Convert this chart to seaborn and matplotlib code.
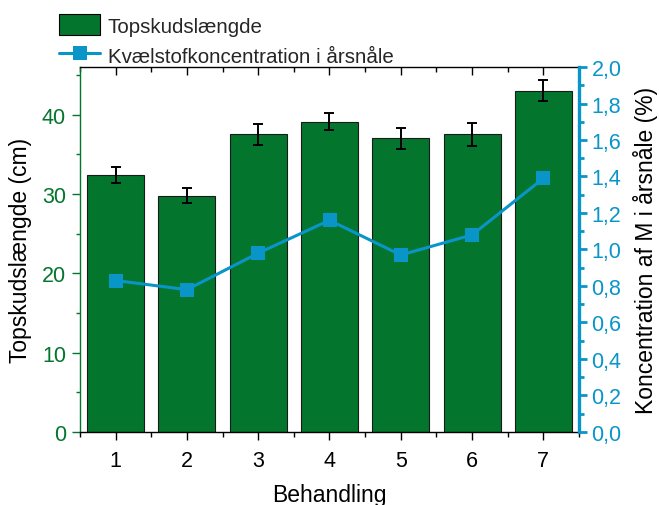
import matplotlib
matplotlib.use("Agg")
import matplotlib.pyplot as plt
import seaborn as sns
import pandas as pd
from matplotlib.ticker import MultipleLocator, FuncFormatter
from matplotlib.lines import Line2D, TICKDOWN
from matplotlib.patches import Patch

# Data
behandling = [1, 2, 3, 4, 5, 6, 7]
topskud = [32.4, 29.8, 37.5, 39.1, 37.0, 37.5, 43.0]
topskud_err = [1.0, 0.9, 1.3, 1.1, 1.3, 1.4, 1.3]
kvaelstof = [0.83, 0.78, 0.98, 1.16, 0.97, 1.08, 1.39]

GREEN = "#03752D"
BLUE = "#0A95C9"

sns.set_theme(style="white")
plt.rcParams["font.family"] = ["Liberation Sans", "DejaVu Sans"]

df = pd.DataFrame({"Behandling": behandling, "Topskud": topskud, "N": kvaelstof})

fig = plt.figure(figsize=(6.59, 5.06), dpi=100)
ax = fig.add_axes([0.1214, 0.1443, 0.7572, 0.7213])

sns.barplot(data=df, x="Behandling", y="Topskud", native_scale=True,
            color=GREEN, saturation=1, width=0.8, edgecolor="#1a1a1a",
            linewidth=0.8, errorbar=None, ax=ax)
ax.errorbar(behandling, topskud, yerr=topskud_err, fmt="none",
            ecolor="black", elinewidth=1.4, capsize=3.5, capthick=1.4, zorder=5)

ax.set_xlim(0.5, 7.5)
ax.set_ylim(0, 46)
ax.set_xticks(behandling)
ax.xaxis.set_minor_locator(MultipleLocator(0.5))
ax.yaxis.set_major_locator(MultipleLocator(10))
ax.yaxis.set_minor_locator(MultipleLocator(5))

ax2 = ax.twinx()
sns.lineplot(data=df, x="Behandling", y="N", color=BLUE, linewidth=2.2,
             marker="s", markersize=10.5, markeredgewidth=0, ax=ax2)
ax2.set_ylim(0, 2.0)
ax2.yaxis.set_major_locator(MultipleLocator(0.2))
ax2.yaxis.set_minor_locator(MultipleLocator(0.1))
ax2.yaxis.set_major_formatter(FuncFormatter(lambda v, p: f"{v:.1f}".replace(".", ",")))

tick_fs = 15.5
ax.set_xlabel("Behandling", fontsize=16.5, color="black")
ax.xaxis.set_label_coords(0.5, -0.14)
ax.set_ylabel("Topskudslængde (cm)", fontsize=16.5, color="black")
ax.yaxis.set_label_coords(-0.096, 0.5)
ax2.set_ylabel("Koncentration af M i årsnåle (%)", fontsize=16.5, color="black")
ax2.yaxis.set_label_coords(1.108, 0.5)

# Spines
for s in ax.spines.values():
    s.set_linewidth(1.0)
    s.set_color("black")
ax.spines["left"].set_color(GREEN)
ax.spines["right"].set_visible(False)
for side in ("left", "top", "bottom"):
    ax2.spines[side].set_visible(False)
ax2.spines["right"].set_color(BLUE)
ax2.spines["right"].set_linewidth(2.4)

# Ticks
ax.tick_params(axis="x", which="both", bottom=True, top=True, direction="out",
               labelsize=tick_fs, colors="black", width=1, pad=7)
ax.tick_params(axis="x", which="major", length=6)
ax.tick_params(axis="x", which="minor", length=3.5)
ax.tick_params(axis="y", which="both", left=True, direction="out",
               labelsize=tick_fs, colors=GREEN, width=1, pad=4)
ax.tick_params(axis="y", which="major", length=6)
ax.tick_params(axis="y", which="minor", length=3)
ax2.tick_params(axis="y", which="both", right=True, direction="out",
                labelsize=tick_fs, colors=BLUE, width=2, pad=3)
ax2.tick_params(axis="y", which="major", length=6)
ax2.tick_params(axis="y", which="minor", length=3.5)
# top ticks point into the plot
for t in ax.xaxis.get_major_ticks() + ax.xaxis.get_minor_ticks():
    t.tick2line.set_marker(TICKDOWN)
ax.yaxis.label.set_color("black")

handles = [Patch(facecolor=GREEN, edgecolor="black", linewidth=0.8),
           Line2D([0], [0], color=BLUE, lw=2.2, marker="s", markersize=9.5, markeredgewidth=0)]
labels = ["Topskudslængde", "Kvælstofkoncentration i årsnåle"]
fig.legend(handles, labels, loc="upper left", bbox_to_anchor=(0.068, 0.998),
           frameon=False, fontsize=14.8, handlelength=2.0, handleheight=1.2,
           labelspacing=0.4, handletextpad=0.35, borderaxespad=0.3)

fig.savefig("out.png", dpi=100)
